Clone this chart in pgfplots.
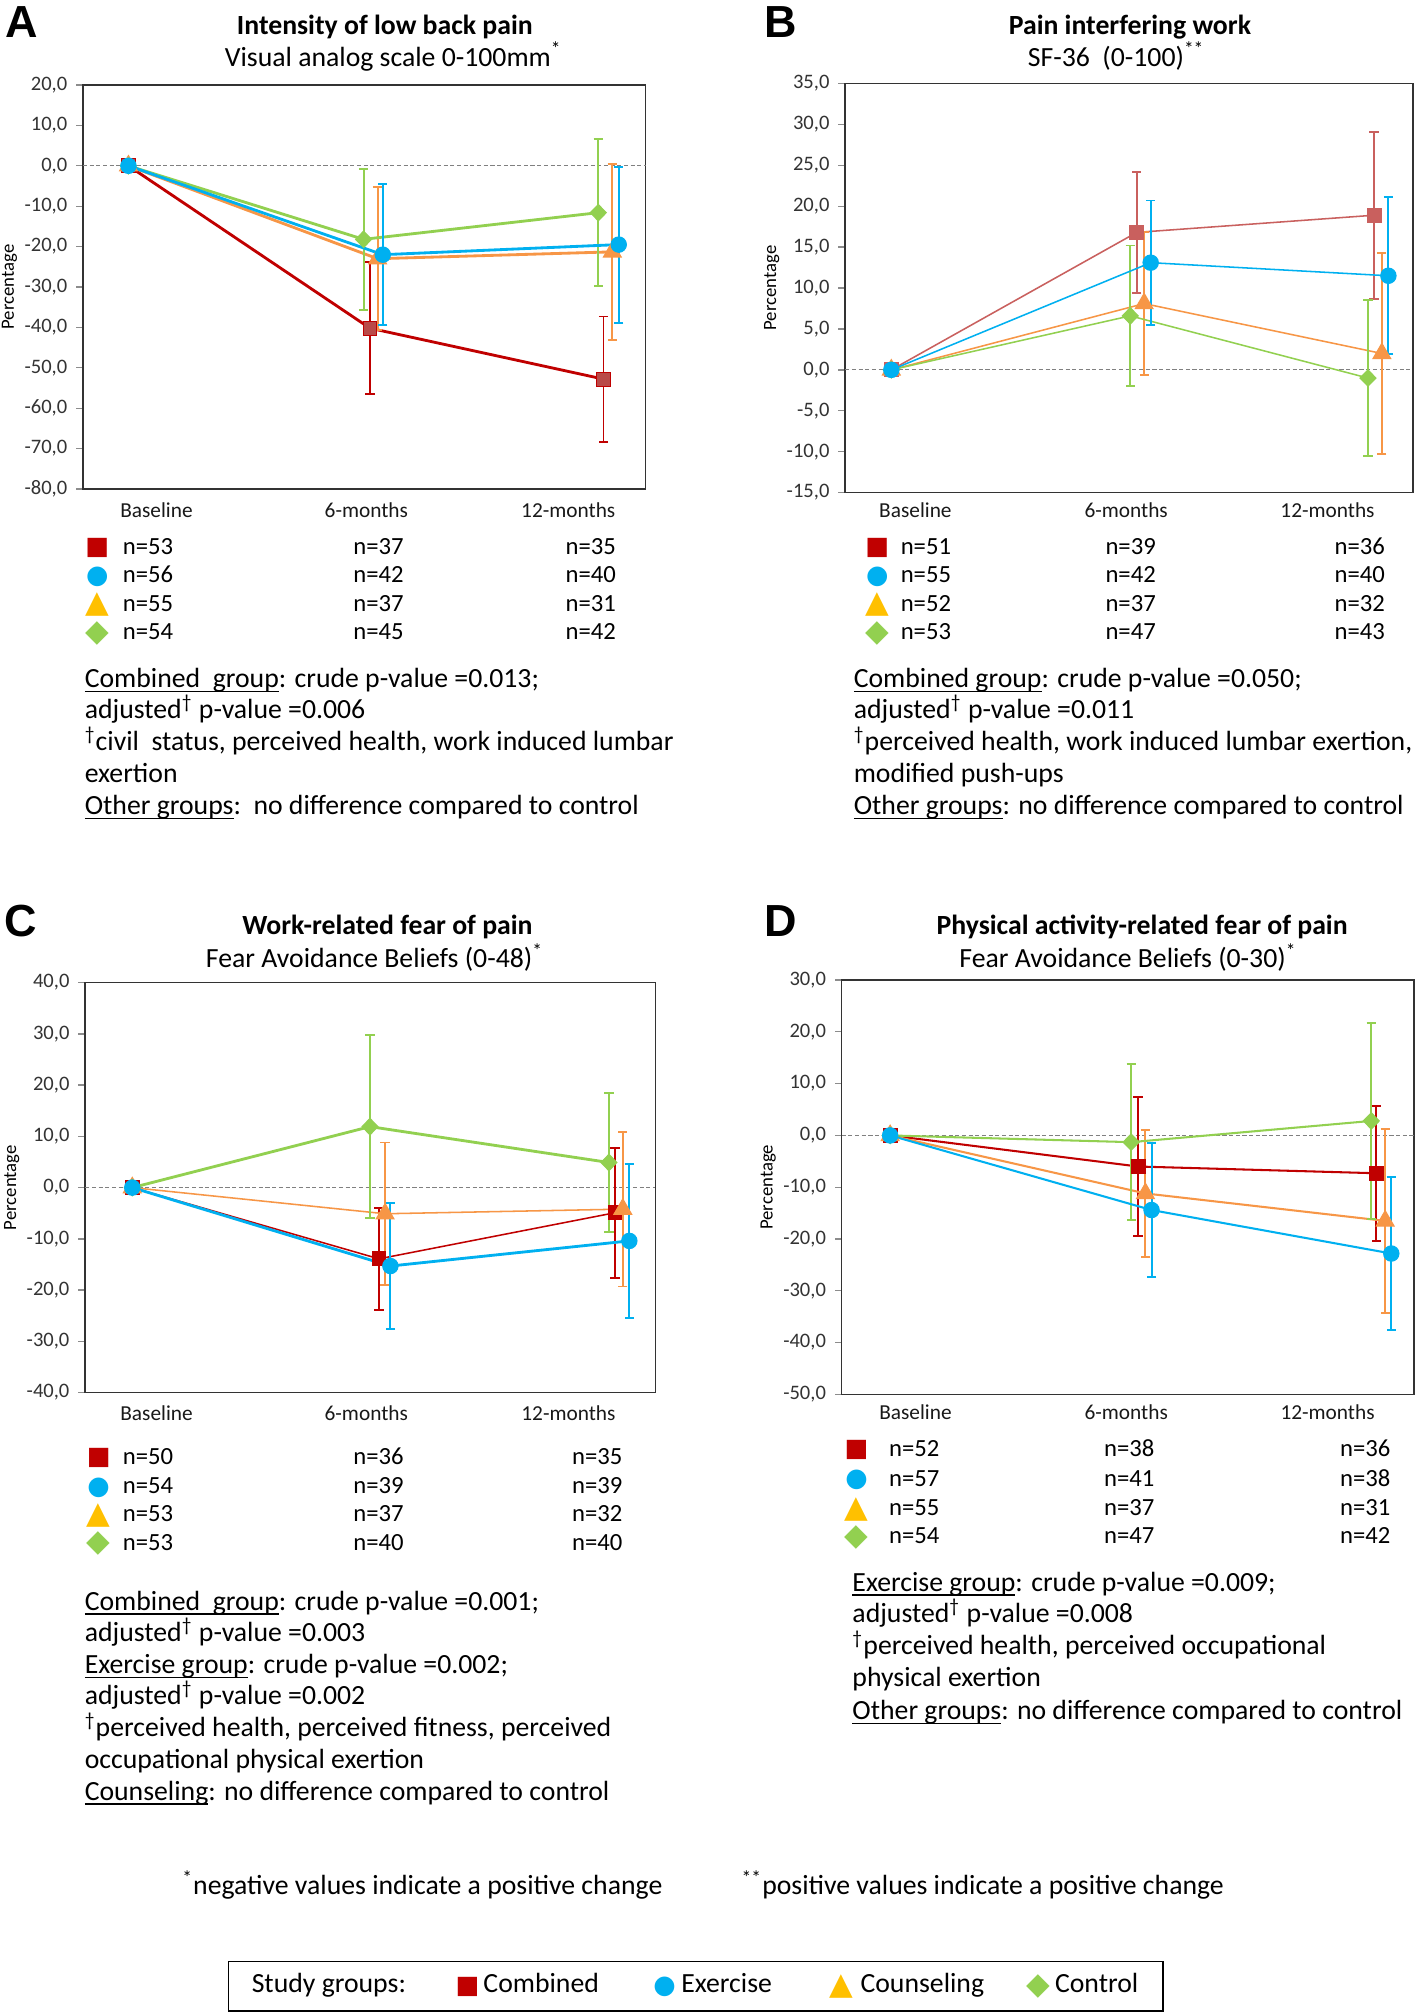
\documentclass[border=0pt]{standalone}
\usepackage{fontspec}
\setmainfont{Carlito}
\newfontfamily\symfont{DejaVu Sans}
\newfontfamily\panelfont{Liberation Sans}
\usepackage{pgfplots}
\pgfplotsset{compat=1.18}

\definecolor{cRed}{HTML}{C00000}
\definecolor{cRedM}{HTML}{B94A48}
\definecolor{cRedL}{HTML}{C9605E}
\definecolor{cBlue}{HTML}{00B0F0}
\definecolor{cOrange}{HTML}{F79646}
\definecolor{cYellow}{HTML}{FFC000}
\definecolor{cGreen}{HTML}{92D050}

\newlength{\ulw}
\newcommand{\ul}[1]{\settowidth{\ulw}{#1}\rlap{\rule[-1.8pt]{\ulw}{0.55pt}}#1}
\newcommand{\bodyfont}{\fontsize{10.8}{13}\selectfont}
\newcommand{\nfont}{\fontsize{9.6}{11}\selectfont}
\newcommand{\gsq}{\textcolor{cRed}{\symfont\fontsize{9.8}{10}\selectfont ■}}
\newcommand{\gci}{\textcolor{cBlue}{\symfont\fontsize{10}{10}\selectfont ●}}
\newcommand{\gtr}{\textcolor{cYellow}{\symfont\fontsize{12}{12}\selectfont ▲}}
\newcommand{\gdi}{\textcolor{cGreen}{\symfont\fontsize{12}{12}\selectfont ◆}}
\newcommand{\dg}{\textsuperscript{\textdagger}}
\newcommand{\tl}[3]{\node[anchor=mid west, inner sep=0, font=\bodyfont] at (#1,#2) {#3};}
\newcommand{\nl}[3]{\node[anchor=mid west, inner sep=0, font=\nfont] at (#1,#2) {#3};}

\pgfplotsset{
  panel/.style={
    scale only axis, clip=false, anchor=south west,
    axis line style={black!80, line width=0.6pt},
    tick align=outside, ytick pos=left,
    ytick style={black!45, line width=0.5pt},
    major tick length=2.6pt,
    xtick style={draw=none},
    yticklabel style={font=\fontsize{8}{9}\selectfont, text=black!80,
      /pgf/number format/fixed, /pgf/number format/fixed zerofill,
      /pgf/number format/precision=1, /pgf/number format/use comma,
      /pgf/number format/assume math mode=true},
    xticklabels={Baseline,6-months,12-months},
    xticklabel style={font=\fontsize{8.3}{9}\selectfont, text=black!90, anchor=center},
    ylabel={Percentage},
    ylabel style={font=\fontsize{7.3}{8}\selectfont, at={([xshift=-28.6pt]axis description cs:0,0.5)}, anchor=center},
    extra y ticks={0}, extra y tick labels={},
    extra y tick style={grid=major, major grid style={black!50, line width=0.45pt, dash pattern=on 1.6pt off 1pt}, major tick length=0pt},
  },
  ser/.style n args={5}{color=#1, line width=#2, mark=#3, mark size=#4,
    mark options={solid, fill=#1, draw=#1, line width=0.4pt, #5},
    error bars/y dir=both, error bars/y explicit,
    error bars/error bar style={color=#1, line width=0.75pt},
    error bars/error mark options={color=#1, line width=0.75pt, mark size=1.8pt, rotate=90}},
}

\begin{document}
\begin{tikzpicture}
\path[use as bounding box, fill=white] (0,0) rectangle (552pt,-784pt);

% ---------------- A ----------------
\begin{axis}[panel, at={(32.3pt,-190.35pt)}, width=219pt, height=157.25pt,
  xmin=-1.135, xmax=12.91, ymin=-80, ymax=20, ytick distance=10,
  xtick={0.70,5.94,10.98}, xticklabel style={yshift=-5.5pt}]
\addplot[ser={cRed}{1.1pt}{square*}{2.7pt}{fill=cRedM}] table[x=x, y=y, y error=e] {
x     y      e
0     0      0
6.03  -40.2  16.4
11.86 -52.8  15.5
};
\addplot[ser={cOrange}{1.1pt}{triangle*}{4pt}{}] table[x=x, y=y, y error=e] {
x     y      e
0     0      0
6.22  -23.0  17.7
12.08 -21.3  21.8
};
\addplot[ser={cGreen}{1.1pt}{diamond*}{3.2pt}{xscale=1.3}] table[x=x, y=y, y error=e] {
x     y      e
0     0      0
5.87  -18.2  17.5
11.73 -11.6  18.2
};
\addplot[ser={cBlue}{1.1pt}{*}{3pt}{}] table[x=x, y=y, y error=e] {
x     y      e
0     0      0
6.35  -22.0  17.5
12.24 -19.5  19.3
};
\end{axis}

% ---------------- B ----------------
\begin{axis}[panel, at={(329pt,-191.75pt)}, width=221pt, height=159.25pt,
  xmin=-1.13, xmax=12.77, ymin=-15, ymax=35, ytick distance=5,
  xtick={0.59,5.75,10.68}, xticklabel style={yshift=-4.1pt}]
\addplot[ser={cRedL}{0.6pt}{square*}{2.7pt}{}] table[x=x, y=y, y error=e] {
x     y      e
0     0      0
6.01  16.8   7.35
11.82 18.9   10.2
};
\addplot[ser={cOrange}{0.6pt}{triangle*}{4pt}{}] table[x=x, y=y, y error=e] {
x     y      e
0     0      0
6.19  8.1    8.7
12.01 2.0    12.3
};
\addplot[ser={cGreen}{0.6pt}{diamond*}{3.2pt}{xscale=1.3}] table[x=x, y=y, y error=e] {
x     y      e
0     0      0
5.85  6.6    8.6
11.67 -1.0   9.5
};
\addplot[ser={cBlue}{0.6pt}{*}{3pt}{}] table[x=x, y=y, y error=e] {
x     y      e
0     0      0
6.35  13.1   7.6
12.17 11.5   9.6
};
\end{axis}

% ---------------- C ----------------
\begin{axis}[panel, at={(33.15pt,-542.1pt)}, width=222pt, height=159.6pt,
  xmin=-1.154, xmax=12.81, ymin=-40, ymax=40, ytick distance=10,
  xtick={0.594,5.73,10.68}, xticklabel style={yshift=-5.25pt}]
\addplot[ser={cRed}{0.6pt}{square*}{2.7pt}{}] table[x=x, y=y, y error=e] {
x     y      e
0     0      0
6.04  -13.9  9.95
11.82 -4.9   12.7
};
\addplot[ser={cOrange}{0.6pt}{triangle*}{4pt}{}] table[x=x, y=y, y error=e] {
x     y      e
0     0      0
6.19  -5.1   13.9
12.01 -4.2   15.1
};
\addplot[ser={cGreen}{1.1pt}{diamond*}{3.2pt}{xscale=1.3}] table[x=x, y=y, y error=e] {
x     y      e
0     0      0
5.82  11.9   17.85
11.67 4.9    13.5
};
\addplot[ser={cBlue}{1.1pt}{*}{3pt}{}] table[x=x, y=y, y error=e] {
x     y      e
0     0      0
6.32  -15.3  12.25
12.17 -10.4  15.0
};
\end{axis}

% ---------------- D ----------------
\begin{axis}[panel, at={(327.65pt,-542.8pt)}, width=222.85pt, height=161.3pt,
  xmin=-1.186, xmax=12.83, ymin=-50, ymax=30, ytick distance=10,
  xtick={0.62,5.78,10.71}, xticklabel style={yshift=-4.5pt}]
\addplot[ser={cRed}{0.8pt}{square*}{2.7pt}{}] table[x=x, y=y, y error=e] {
x     y      e
0     0      0
6.07  -6.0   13.45
11.90 -7.3   13.0
};
\addplot[ser={cOrange}{0.8pt}{triangle*}{4pt}{}] table[x=x, y=y, y error=e] {
x     y      e
0     0      0
6.25  -11.2  12.2
12.12 -16.5  17.7
};
\addplot[ser={cGreen}{0.8pt}{diamond*}{3.2pt}{xscale=1.3}] table[x=x, y=y, y error=e] {
x     y      e
0     0      0
5.90  -1.3   15.05
11.78 2.8    18.85
};
\addplot[ser={cBlue}{0.8pt}{*}{3pt}{}] table[x=x, y=y, y error=e] {
x     y      e
0     0      0
6.40  -14.4  12.95
12.27 -22.8  14.8
};
\end{axis}

\begin{scope}[x=0.5pt, y=-0.5pt]
% panel letters
\foreach \L/\px/\py in {A/4/29, B/595/29, C/3/729, D/595/729}
  \node[anchor=base west, inner sep=0, font=\panelfont\bfseries\fontsize{17.5}{18}\selectfont] at (\px,\py) {\L};

% titles
\node[font=\bfseries\bodyfont, anchor=mid, inner sep=0] at (299.6,22) {Intensity of low back pain};
\node[font=\bodyfont, anchor=mid, inner sep=0] at (302,46.7) {Visual analog scale 0-100mm\rlap{\textsuperscript{*}}};
\node[font=\bfseries\bodyfont, anchor=mid, inner sep=0] at (879.7,22) {Pain interfering work};
\node[font=\bodyfont, anchor=mid, inner sep=0] at (861,46.7) {SF-36\ \ (0-100)\rlap{\textsuperscript{**}}};
\node[font=\bfseries\bodyfont, anchor=mid, inner sep=0] at (301.7,722.8) {Work-related fear of pain};
\node[font=\bodyfont, anchor=mid, inner sep=0] at (287.4,748.7) {Fear Avoidance Beliefs (0-48)\rlap{\textsuperscript{*}}};
\node[font=\bfseries\bodyfont, anchor=mid, inner sep=0] at (889.2,722.8) {Physical activity-related fear of pain};
\node[font=\bodyfont, anchor=mid, inner sep=0] at (874,748.7) {Fear Avoidance Beliefs (0-30)\rlap{\textsuperscript{*}}};

% n tables
\foreach \g/\y/\a/\b/\c in {\gsq/427/53/37/35, \gci/449/56/42/40, \gtr/471/55/37/31, \gdi/493/54/45/42} {
  \node[inner sep=0] at (75.8,\y) {\g};
  \nl{95.3}{\y}{n=\a} \nl{274.8}{\y}{n=\b} \nl{440}{\y}{n=\c}
}
\foreach \g/\y/\a/\b/\c in {\gsq/427/51/39/36, \gci/449/55/42/40, \gtr/471/52/37/32, \gdi/493/53/47/43} {
  \node[inner sep=0] at (683,\y) {\g};
  \nl{700.9}{\y}{n=\a} \nl{860.3}{\y}{n=\b} \nl{1038.7}{\y}{n=\c}
}
\foreach \g/\y/\a/\b/\c in {\gsq/1135.4/50/36/35, \gci/1158/54/39/39, \gtr/1180/53/37/32, \gdi/1202/53/40/40} {
  \node[inner sep=0] at (76.8,\y) {\g};
  \nl{95.3}{\y}{n=\a} \nl{274.8}{\y}{n=\b} \nl{445}{\y}{n=\c}
}
\foreach \g/\y/\a/\b/\c in {\gsq/1129/52/38/36, \gci/1152.3/57/41/38, \gtr/1175/55/37/31, \gdi/1197/54/47/42} {
  \node[inner sep=0] at (666.8,\y) {\g};
  \nl{691.9}{\y}{n=\a} \nl{859.2}{\y}{n=\b} \nl{1043}{\y}{n=\c}
}

% notes A
\tl{65.6}{530.7}{\ul{Combined~~group}: crude p-value =0.013;}
\tl{65.6}{554.8}{adjusted\dg\ p-value =0.006}
\tl{65.6}{579.3}{\dg civil\ \ status, perceived health, work induced lumbar}
\tl{65.6}{604.7}{exertion}
\tl{65.6}{629.4}{\ul{Other~groups}:\ \ no difference compared to control}
% notes B
\tl{664.3}{530.7}{\ul{Combined~group}: crude p-value =0.050;}
\tl{664.3}{554.8}{adjusted\dg\ p-value =0.011}
\tl{664.3}{579.3}{\dg perceived health, work induced lumbar exertion,}
\tl{664.3}{604.7}{modified push-ups}
\tl{664.3}{629.4}{\ul{Other~groups}: no difference compared to control}
% notes C
\tl{65.6}{1248.8}{\ul{Combined~~group}: crude p-value =0.001;}
\tl{65.6}{1273}{adjusted\dg\ p-value =0.003}
\tl{65.6}{1298.1}{\ul{Exercise~group}: crude p-value =0.002;}
\tl{65.6}{1322.3}{adjusted\dg\ p-value =0.002}
\tl{65.6}{1347}{\dg perceived health, perceived fitness, perceived}
\tl{65.6}{1372.1}{occupational physical exertion}
\tl{65.6}{1396.8}{\ul{Counseling}: no difference compared to control}
% notes D
\tl{663.3}{1234}{\ul{Exercise~group}: crude p-value =0.009;}
\tl{663.3}{1258.7}{adjusted\dg\ p-value =0.008}
\tl{663.3}{1283.3}{\dg perceived health, perceived occupational}
\tl{663.3}{1308.5}{physical exertion}
\tl{663.3}{1334}{\ul{Other~groups}: no difference compared to control}

% footnotes
\tl{141.5}{1470}{\textsuperscript{*}negative values indicate a positive change}
\tl{577}{1470}{\textsuperscript{**}positive values indicate a positive change}

% study-group key
\draw[black, line width=0.65pt] (178,1527) rectangle (905.7,1565.7);
\tl{195.6}{1546.8}{Study groups:}
\node[inner sep=0] at (364,1546.8) {\gsq};
\tl{376}{1546.8}{Combined}
\node[inner sep=0] at (517.5,1546.8) {\gci};
\tl{530}{1546.8}{Exercise}
\node[inner sep=0] at (655,1546.8) {\gtr};
\tl{669.6}{1546.8}{Counseling}
\node[inner sep=0] at (808.6,1546.8) {\gdi};
\tl{821}{1546.8}{Control}
\end{scope}
\end{tikzpicture}
\end{document}
